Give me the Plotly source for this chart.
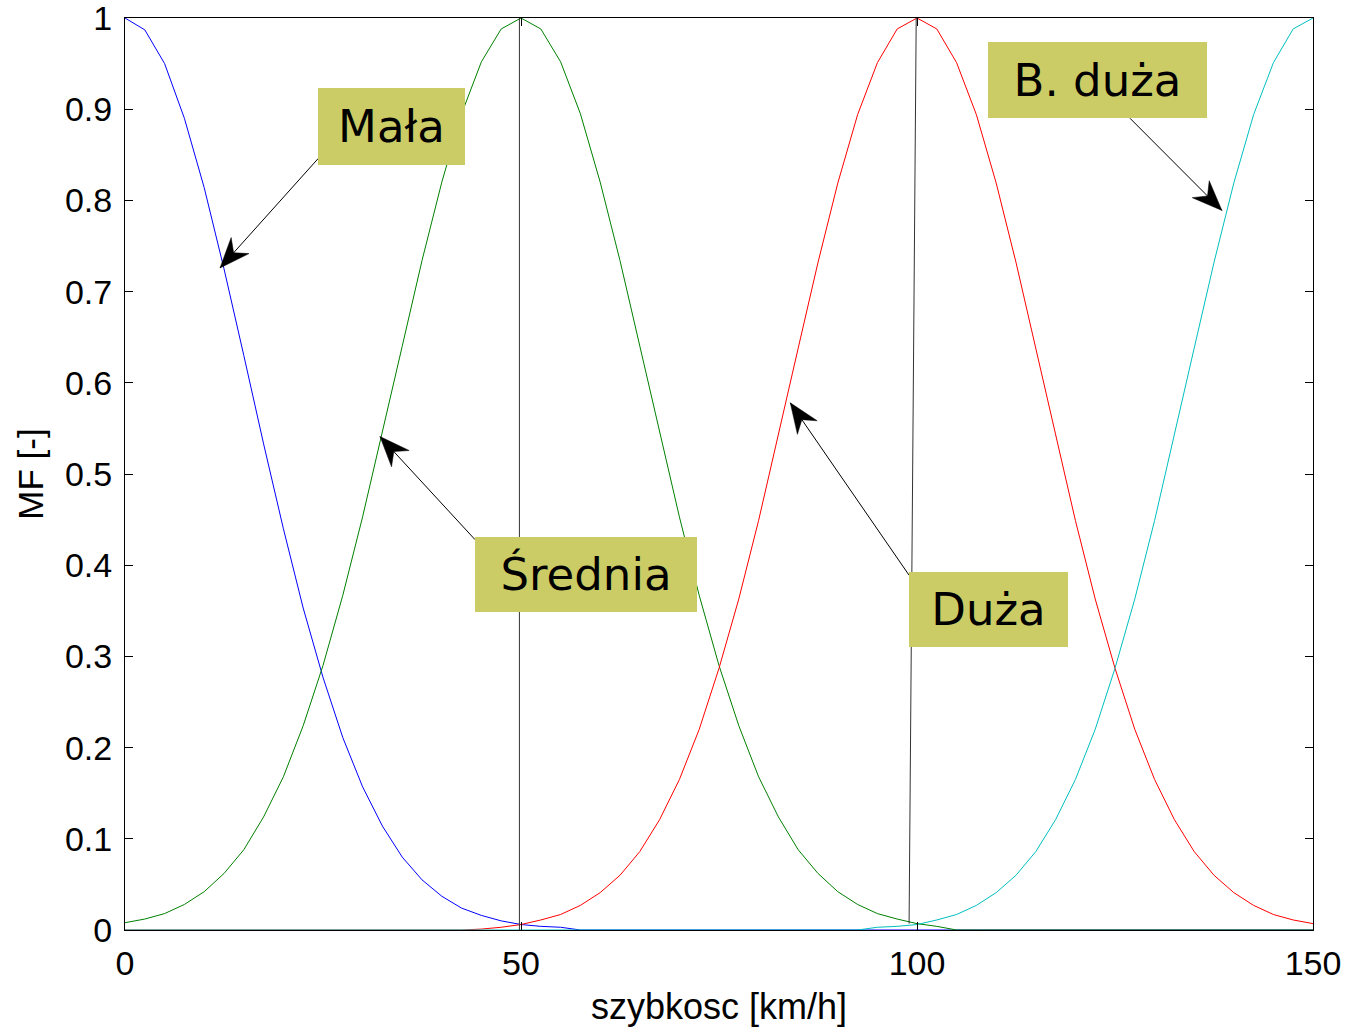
import math
import plotly.graph_objects as go

# ---------------- data ----------------
speed = [0, 2.5, 5, 7.5, 10, 12.5, 15, 17.5, 20, 22.5, 25, 27.5, 30, 32.5, 35, 37.5, 40,
         42.5, 45, 47.5, 50, 52.5, 55, 57.5, 60, 62.5, 65, 67.5, 70, 72.5, 75, 77.5, 80,
         82.5, 85, 87.5, 90, 92.5, 95, 97.5, 100, 102.5, 105, 107.5, 110, 112.5, 115,
         117.5, 120, 122.5, 125, 127.5, 130, 132.5, 135, 137.5, 140, 142.5, 145, 147.5, 150]

mala = [1.000, 0.987, 0.950, 0.890, 0.814, 0.725, 0.630, 0.533, 0.440, 0.353, 0.277,
        0.211, 0.157, 0.114, 0.080, 0.055, 0.037, 0.024, 0.016, 0.010, 0.006, 0.004,
        0.003] + [0.0] * 38

srednia = [0.008, 0.012, 0.018, 0.028, 0.042, 0.062, 0.088, 0.124, 0.168, 0.224, 0.290,
           0.367, 0.453, 0.545, 0.640, 0.734, 0.820, 0.895, 0.952, 0.988, 1.000,
           0.988, 0.952, 0.895, 0.820, 0.734, 0.640, 0.545, 0.453, 0.367, 0.290,
           0.224, 0.168, 0.124, 0.088, 0.062, 0.042, 0.028, 0.018, 0.012, 0.007,
           0.004, 0.0] + [0.0] * 18

duza = [0.0] * 18 + [0.001, 0.003, 0.006, 0.011, 0.017, 0.027, 0.041, 0.060, 0.086, 0.121,
                     0.165, 0.220, 0.287, 0.363, 0.449, 0.542, 0.638, 0.732, 0.819, 0.894,
                     0.951, 0.988, 1.000, 0.988, 0.951, 0.894, 0.819, 0.732, 0.638, 0.542,
                     0.449, 0.363, 0.287, 0.220, 0.165, 0.121, 0.086, 0.060, 0.041, 0.027,
                     0.017, 0.011, 0.007]

b_duza = [0.0] * 38 + [0.003, 0.004, 0.006, 0.011, 0.017, 0.027, 0.041, 0.060, 0.086, 0.121,
                       0.165, 0.220, 0.287, 0.363, 0.449, 0.542, 0.638, 0.732, 0.819, 0.894,
                       0.951, 0.988, 1.000]

# two thin black marker lines visible in the reference
vline1_x = [49.8, 49.8]
vline1_y = [0.0, 1.0]
vline2_x = [99.0, 99.9]
vline2_y = [0.007, 1.0]

y_ticks = [0, 0.1, 0.2, 0.3, 0.4, 0.5, 0.6, 0.7, 0.8, 0.9, 1]
y_tick_text = ["0", "0.1", "0.2", "0.3", "0.4", "0.5", "0.6", "0.7", "0.8", "0.9", "1"]
x_ticks = [0, 50, 100, 150]
x_tick_text = ["0", "50", "100", "150"]

# labels: text, box centre (data), arrow tail (data), arrow head (data), box size (px)
labels = ["Mała", "Średnia", "Duża", "B. duża"]
box_x = [33.65, 58.2, 109.0, 122.8]
box_y = [0.881, 0.390, 0.351, 0.932]
box_w = [147, 222, 159, 219]
box_h = [77, 75, 75, 76]
tail_x = [24.4, 44.2, 99.0, 126.9]
tail_y = [0.846, 0.428, 0.389, 0.890]
head_x = [12.0, 32.2, 84.0, 138.5]
head_y = [0.726, 0.541, 0.578, 0.789]

# ---------------- layout geometry ----------------
W, H = 1349, 1027
ML, MR, MT, MB = 125, 36, 18, 97
PX_PER_X = (W - ML - MR) / 150.0
PX_PER_Y = (H - MT - MB) / 1.0

fig = go.Figure()
fig.add_trace(go.Scatter(x=speed, y=mala, mode="lines", line=dict(color="#0000FF", width=1), name="Mała"))
fig.add_trace(go.Scatter(x=speed, y=srednia, mode="lines", line=dict(color="#008000", width=1), name="Średnia"))
fig.add_trace(go.Scatter(x=speed, y=duza, mode="lines", line=dict(color="#FF0000", width=1), name="Duża"))
fig.add_trace(go.Scatter(x=speed, y=b_duza, mode="lines", line=dict(color="#00BFBF", width=1), name="B. duża"))
fig.add_trace(go.Scatter(x=vline1_x, y=vline1_y, mode="lines", line=dict(color="#333333", width=1), showlegend=False))
fig.add_trace(go.Scatter(x=vline2_x, y=vline2_y, mode="lines", line=dict(color="#333333", width=1), showlegend=False))

shapes = []
annotations = []
L_HEAD, W_HEAD, NOTCH = 30.0, 12.0, 0.68
for i, txt in enumerate(labels):
    shapes.append(dict(type="line", xref="x", yref="y",
                       x0=tail_x[i], y0=tail_y[i], x1=head_x[i], y1=head_y[i],
                       line=dict(color="black", width=1)))
    dx = (head_x[i] - tail_x[i]) * PX_PER_X
    dy = (head_y[i] - tail_y[i]) * PX_PER_Y
    n = math.hypot(dx, dy)
    ux, uy = dx / n, dy / n
    nx, ny = -uy, ux
    b1 = (-L_HEAD * ux + W_HEAD * nx, -L_HEAD * uy + W_HEAD * ny)
    b2 = (-L_HEAD * ux - W_HEAD * nx, -L_HEAD * uy - W_HEAD * ny)
    nt = (-NOTCH * L_HEAD * ux, -NOTCH * L_HEAD * uy)
    path = "M 0,0 L {:.2f},{:.2f} L {:.2f},{:.2f} L {:.2f},{:.2f} Z".format(
        b1[0], b1[1], nt[0], nt[1], b2[0], b2[1])
    shapes.append(dict(type="path", xref="x", yref="y", xsizemode="pixel", ysizemode="pixel",
                       xanchor=head_x[i], yanchor=head_y[i], path=path,
                       fillcolor="black", line=dict(color="black", width=0.5)))
    annotations.append(dict(x=box_x[i], y=box_y[i], xref="x", yref="y", text=txt,
                            showarrow=False, bgcolor="#CCCC66", borderpad=0, borderwidth=0,
                            width=box_w[i], height=box_h[i], align="center", valign="middle",
                            font=dict(family="DejaVu Sans", size=45, color="black")))

fig.update_layout(
    width=W, height=H,
    margin=dict(l=ML, r=MR, t=MT, b=MB, autoexpand=False),
    paper_bgcolor="white", plot_bgcolor="white",
    showlegend=False,
    shapes=shapes, annotations=annotations,
    font=dict(family="Liberation Sans, Arial", color="black"),
)
fig.update_xaxes(range=[0, 150], tickvals=x_ticks, ticktext=x_tick_text, automargin=False,
                 showgrid=False, zeroline=False, showline=True, linecolor="black", linewidth=1,
                 mirror="ticks", ticks="inside", ticklen=8, tickcolor="black",
                 ticklabeloverflow="allow",
                 tickfont=dict(size=34, family="Liberation Sans, Arial"), ticklabelstandoff=3,
                 title=dict(text="szybkosc [km/h]", font=dict(size=36, family="Liberation Sans, Arial"), standoff=14))
fig.update_yaxes(range=[0, 1], tickvals=y_ticks, ticktext=y_tick_text, automargin=False,
                 showgrid=False, zeroline=False, showline=True, linecolor="black", linewidth=1,
                 mirror="ticks", ticks="inside", ticklen=8, tickcolor="black",
                 ticklabeloverflow="allow",
                 tickfont=dict(size=34, family="Liberation Sans, Arial"), ticklabelstandoff=5,
                 title=dict(text="MF [-]", font=dict(size=35, family="Liberation Sans, Arial"), standoff=10))

fig.write_html("out.html")
